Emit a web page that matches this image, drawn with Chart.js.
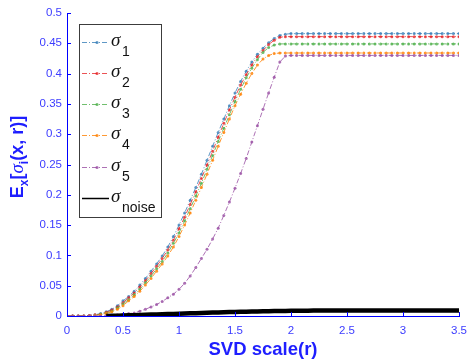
<!DOCTYPE html>
<html lang="en">
<head>
    <meta charset="UTF-8">
    <title>Expected singular values vs SVD scale</title>
    <style>
        html, body { margin: 0; padding: 0; background: #fff; }
        canvas { display: block; }
    </style>
    <script src="https://cdn.jsdelivr.net/npm/chart.js"></script>
</head>
<body>
    <canvas id="svdChart" width="467" height="361"></canvas>
    <script>
        // SVD scale r (x axis samples)
        const scaleR = [
            0, 0.05, 0.1, 0.15, 0.2, 0.25, 0.3, 0.35, 0.4, 0.45,
            0.5, 0.55, 0.6, 0.65, 0.7, 0.75, 0.8, 0.85, 0.9, 0.95,
            1, 1.05, 1.1, 1.15, 1.2, 1.25, 1.3, 1.35, 1.4, 1.45,
            1.5, 1.55, 1.6, 1.65, 1.7, 1.75, 1.8, 1.85, 1.9, 1.95,
            2, 2.05, 2.1, 2.15, 2.2, 2.25, 2.3, 2.35, 2.4, 2.45,
            2.5, 2.55, 2.6, 2.65, 2.7, 2.75, 2.8, 2.85, 2.9, 2.95,
            3, 3.05, 3.1, 3.15, 3.2, 3.25, 3.3, 3.35, 3.4, 3.45,
            3.5
        ];

        const sigma1 = [
            0, 0, 0, 0, 0.001, 0.002, 0.004, 0.007, 0.011, 0.017,
            0.025, 0.032, 0.041, 0.051, 0.062, 0.074, 0.086, 0.099, 0.114, 0.131,
            0.150, 0.170, 0.191, 0.212, 0.234, 0.257, 0.280, 0.303, 0.325, 0.347,
            0.368, 0.387, 0.404, 0.419, 0.432, 0.442, 0.451, 0.458, 0.463, 0.465,
            0.466, 0.466, 0.466, 0.466, 0.466, 0.466, 0.466, 0.466, 0.466, 0.466,
            0.466, 0.466, 0.466, 0.466, 0.466, 0.466, 0.466, 0.466, 0.466, 0.466,
            0.466, 0.466, 0.466, 0.466, 0.466, 0.466, 0.466, 0.466, 0.466, 0.466,
            0.466
        ];
        const sigma2 = [
            0, 0, 0, 0, 0.001, 0.002, 0.003, 0.006, 0.010, 0.015,
            0.022, 0.030, 0.038, 0.048, 0.058, 0.070, 0.082, 0.095, 0.109, 0.125,
            0.144, 0.163, 0.184, 0.205, 0.227, 0.249, 0.272, 0.295, 0.318, 0.340,
            0.361, 0.381, 0.398, 0.414, 0.428, 0.438, 0.448, 0.455, 0.460, 0.461,
            0.461, 0.461, 0.461, 0.461, 0.461, 0.461, 0.461, 0.461, 0.461, 0.461,
            0.461, 0.461, 0.461, 0.461, 0.461, 0.461, 0.461, 0.461, 0.461, 0.461,
            0.461, 0.461, 0.461, 0.461, 0.461, 0.461, 0.461, 0.461, 0.461, 0.461,
            0.461
        ];
        const sigma3 = [
            0, 0, 0, 0, 0, 0.001, 0.003, 0.005, 0.008, 0.013,
            0.020, 0.027, 0.035, 0.044, 0.055, 0.066, 0.078, 0.090, 0.104, 0.120,
            0.137, 0.157, 0.177, 0.198, 0.219, 0.242, 0.265, 0.288, 0.310, 0.332,
            0.354, 0.374, 0.393, 0.409, 0.423, 0.435, 0.443, 0.447, 0.449, 0.449,
            0.449, 0.449, 0.449, 0.449, 0.449, 0.449, 0.449, 0.449, 0.449, 0.449,
            0.449, 0.449, 0.449, 0.449, 0.449, 0.449, 0.449, 0.449, 0.449, 0.449,
            0.449, 0.449, 0.449, 0.449, 0.449, 0.449, 0.449, 0.449, 0.449, 0.449,
            0.449
        ];
        const sigma4 = [
            0, 0, 0, 0, 0, 0.001, 0.002, 0.004, 0.007, 0.011,
            0.017, 0.025, 0.032, 0.041, 0.051, 0.062, 0.074, 0.086, 0.099, 0.114,
            0.131, 0.150, 0.170, 0.191, 0.212, 0.234, 0.257, 0.280, 0.303, 0.325,
            0.347, 0.366, 0.384, 0.400, 0.414, 0.424, 0.430, 0.433, 0.434, 0.434,
            0.434, 0.434, 0.434, 0.434, 0.434, 0.434, 0.434, 0.434, 0.434, 0.434,
            0.434, 0.434, 0.434, 0.434, 0.434, 0.434, 0.434, 0.434, 0.434, 0.434,
            0.434, 0.434, 0.434, 0.434, 0.434, 0.434, 0.434, 0.434, 0.434, 0.434,
            0.434
        ];
        const sigma5 = [
            0, 0, 0, 0, 0, 0, 0, 0.0005, 0.001, 0.002,
            0.003, 0.004, 0.005, 0.008, 0.011, 0.015, 0.019, 0.024, 0.030, 0.036,
            0.044, 0.054, 0.066, 0.080, 0.095, 0.110, 0.127, 0.145, 0.166, 0.188,
            0.211, 0.235, 0.260, 0.287, 0.314, 0.341, 0.368, 0.394, 0.419, 0.429,
            0.430, 0.430, 0.430, 0.430, 0.430, 0.430, 0.430, 0.430, 0.430, 0.430,
            0.430, 0.430, 0.430, 0.430, 0.430, 0.430, 0.430, 0.430, 0.430, 0.430,
            0.430, 0.430, 0.430, 0.430, 0.430, 0.430, 0.430, 0.430, 0.430, 0.430,
            0.430
        ];
        const sigmaNoise = [
            null, null, null, null, null, null, null, 0, 0.0003, 0.0005,
            0.0008, 0.0011, 0.0014, 0.0017, 0.002, 0.0023, 0.0026, 0.0029, 0.0032, 0.0035,
            0.0038, 0.0041, 0.0044, 0.0047, 0.005, 0.0053, 0.0056, 0.0059, 0.0062, 0.0065,
            0.0068, 0.007, 0.0072, 0.0074, 0.0076, 0.0078, 0.008, 0.0082, 0.0083, 0.0084,
            0.0085, 0.0086, 0.0087, 0.0088, 0.0089, 0.009, 0.009, 0.009, 0.009, 0.009,
            0.009, 0.009, 0.009, 0.009, 0.009, 0.009, 0.009, 0.009, 0.009, 0.009,
            0.009, 0.009, 0.009, 0.009, 0.009, 0.009, 0.009, 0.009, 0.009, 0.009,
            0.009
        ];

        const seriesSubs = ['1', '2', '3', '4', '5', 'noise'];
        const seriesValues = [sigma1, sigma2, sigma3, sigma4, sigma5, sigmaNoise];
        const seriesColors = [
            'rgba(55,126,184,0.8)',
            'rgba(228,26,28,0.75)',
            'rgba(77,175,74,0.8)',
            'rgba(255,127,0,0.8)',
            'rgba(152,78,163,0.8)',
            '#000000'
        ];

        const axisBlue = '#0000ff';
        const tickBlue = '#3c3cff';
        const titleBlue = '#1e1eff';
        const dashDot = [5, 2, 1, 2];

        function fmt(v) {
            return String(Number(v.toFixed(2)));
        }

        const datasets = seriesValues.map((vals, i) => {
            const isNoise = i === 5;
            return {
                label: 'sigma_' + seriesSubs[i],
                data: vals.map((v, k) => ({ x: scaleR[k], y: v })),
                borderColor: seriesColors[i],
                backgroundColor: seriesColors[i],
                borderWidth: isNoise ? 4.5 : 1,
                borderDash: isNoise ? [] : dashDot,
                pointRadius: isNoise ? 0 : 1.5,
                pointBorderWidth: 0,
                pointBackgroundColor: seriesColors[i],
                tension: 0,
                order: 5 - i
            };
        });

        // inner ticks, y-label with subscripts, legend box
        const decorPlugin = {
            id: 'decor',
            afterDraw(chart) {
                const ctx = chart.ctx;
                const area = chart.chartArea;
                const xs = chart.scales.x;
                const ys = chart.scales.y;

                ctx.save();
                ctx.strokeStyle = axisBlue;
                ctx.lineWidth = 1;
                ctx.beginPath();
                xs.ticks.forEach(t => {
                    const px = Math.round(xs.getPixelForValue(t.value)) + 0.5;
                    ctx.moveTo(px, area.bottom);
                    ctx.lineTo(px, area.bottom - 4);
                });
                ys.ticks.forEach(t => {
                    const py = Math.round(ys.getPixelForValue(t.value)) + 0.5;
                    ctx.moveTo(area.left, py);
                    ctx.lineTo(area.left + 4, py);
                });
                ctx.stroke();
                ctx.restore();

                // y axis title: E_x[σ_i(x, r)]
                const big = 'bold 18px "Liberation Sans", Arial, sans-serif';
                const sub = 'bold 12px "Liberation Sans", Arial, sans-serif';
                const sig = 'italic 19px "Liberation Serif", serif';
                const parts = [
                    ['E', big, 0], ['x', sub, 5], ['[', big, 0],
                    ['\u03c3', sig, 0], ['i', sub, 5], ['(x, r)]', big, 0]
                ];
                ctx.save();
                let total = 0;
                parts.forEach(p => { ctx.font = p[1]; total += ctx.measureText(p[0]).width; });
                ctx.translate(23, 157);
                ctx.rotate(-Math.PI / 2);
                ctx.fillStyle = titleBlue;
                ctx.textBaseline = 'alphabetic';
                let cx = -total / 2;
                parts.forEach(p => {
                    ctx.font = p[1];
                    ctx.fillText(p[0], cx, p[2]);
                    cx += ctx.measureText(p[0]).width;
                });
                ctx.restore();

                // legend
                const box = { x: 79.5, y: 24.5, w: 82, h: 193 };
                const rowY = [42, 73, 104, 135, 167, 198];
                ctx.save();
                ctx.fillStyle = '#ffffff';
                ctx.fillRect(box.x, box.y, box.w, box.h);
                ctx.strokeStyle = '#3c3c3c';
                ctx.lineWidth = 1;
                ctx.strokeRect(box.x, box.y, box.w, box.h);
                seriesSubs.forEach((s, i) => {
                    const y = rowY[i] + 0.5;
                    ctx.strokeStyle = seriesColors[i];
                    ctx.lineWidth = i === 5 ? 1.5 : 1;
                    ctx.setLineDash(i === 5 ? [] : dashDot);
                    ctx.beginPath();
                    ctx.moveTo(82, y);
                    ctx.lineTo(109, y);
                    ctx.stroke();
                    ctx.setLineDash([]);
                    if (i < 5) {
                        ctx.fillStyle = seriesColors[i];
                        ctx.beginPath();
                        ctx.arc(97, y, 1.6, 0, Math.PI * 2);
                        ctx.fill();
                    }
                    ctx.fillStyle = '#111';
                    ctx.textBaseline = 'alphabetic';
                    ctx.font = 'italic 19px "Liberation Serif", serif';
                    ctx.fillText('\u03c3', 111, rowY[i] + 4);
                    ctx.font = '14px "Liberation Sans", Arial, sans-serif';
                    ctx.fillText(s, 122, rowY[i] + 14);
                });
                ctx.restore();
            }
        };

        const config = {
            type: 'line',
            data: { datasets: datasets },
            options: {
                responsive: false,
                animation: false,
                layout: { padding: { top: 13, right: 8, left: 0, bottom: 0 } },
                plugins: {
                    legend: { display: false },
                    tooltip: { enabled: false }
                },
                scales: {
                    x: {
                        type: 'linear',
                        min: 0,
                        max: 3.5,
                        grid: { display: false, drawTicks: false },
                        border: { display: true, color: axisBlue, width: 1 },
                        ticks: {
                            stepSize: 0.5,
                            padding: 8,
                            color: tickBlue,
                            maxRotation: 0,
                            font: { family: '"Liberation Sans", Arial, sans-serif', size: 11.5 },
                            callback: v => fmt(v)
                        },
                        title: {
                            display: true,
                            text: 'SVD scale(r)',
                            color: titleBlue,
                            padding: { top: 0, bottom: 0 },
                            font: { family: '"Liberation Sans", Arial, sans-serif', size: 18.5, weight: 'bold' }
                        },
                        afterFit: scale => {
                            scale.height = 45;
                            scale.paddingLeft = 0;
                            scale.paddingRight = 0;
                        }
                    },
                    y: {
                        type: 'linear',
                        min: 0,
                        max: 0.5,
                        grid: { display: false, drawTicks: false },
                        border: { display: true, color: axisBlue, width: 1 },
                        ticks: {
                            stepSize: 0.05,
                            padding: 5,
                            color: tickBlue,
                            font: { family: '"Liberation Sans", Arial, sans-serif', size: 11.5 },
                            callback: v => fmt(v)
                        },
                        afterFit: scale => {
                            scale.width = 67;
                            scale.paddingTop = 0;
                            scale.paddingBottom = 0;
                        }
                    }
                }
            },
            plugins: [decorPlugin]
        };

        new Chart(document.getElementById('svdChart').getContext('2d'), config);
    </script>
</body>
</html>
